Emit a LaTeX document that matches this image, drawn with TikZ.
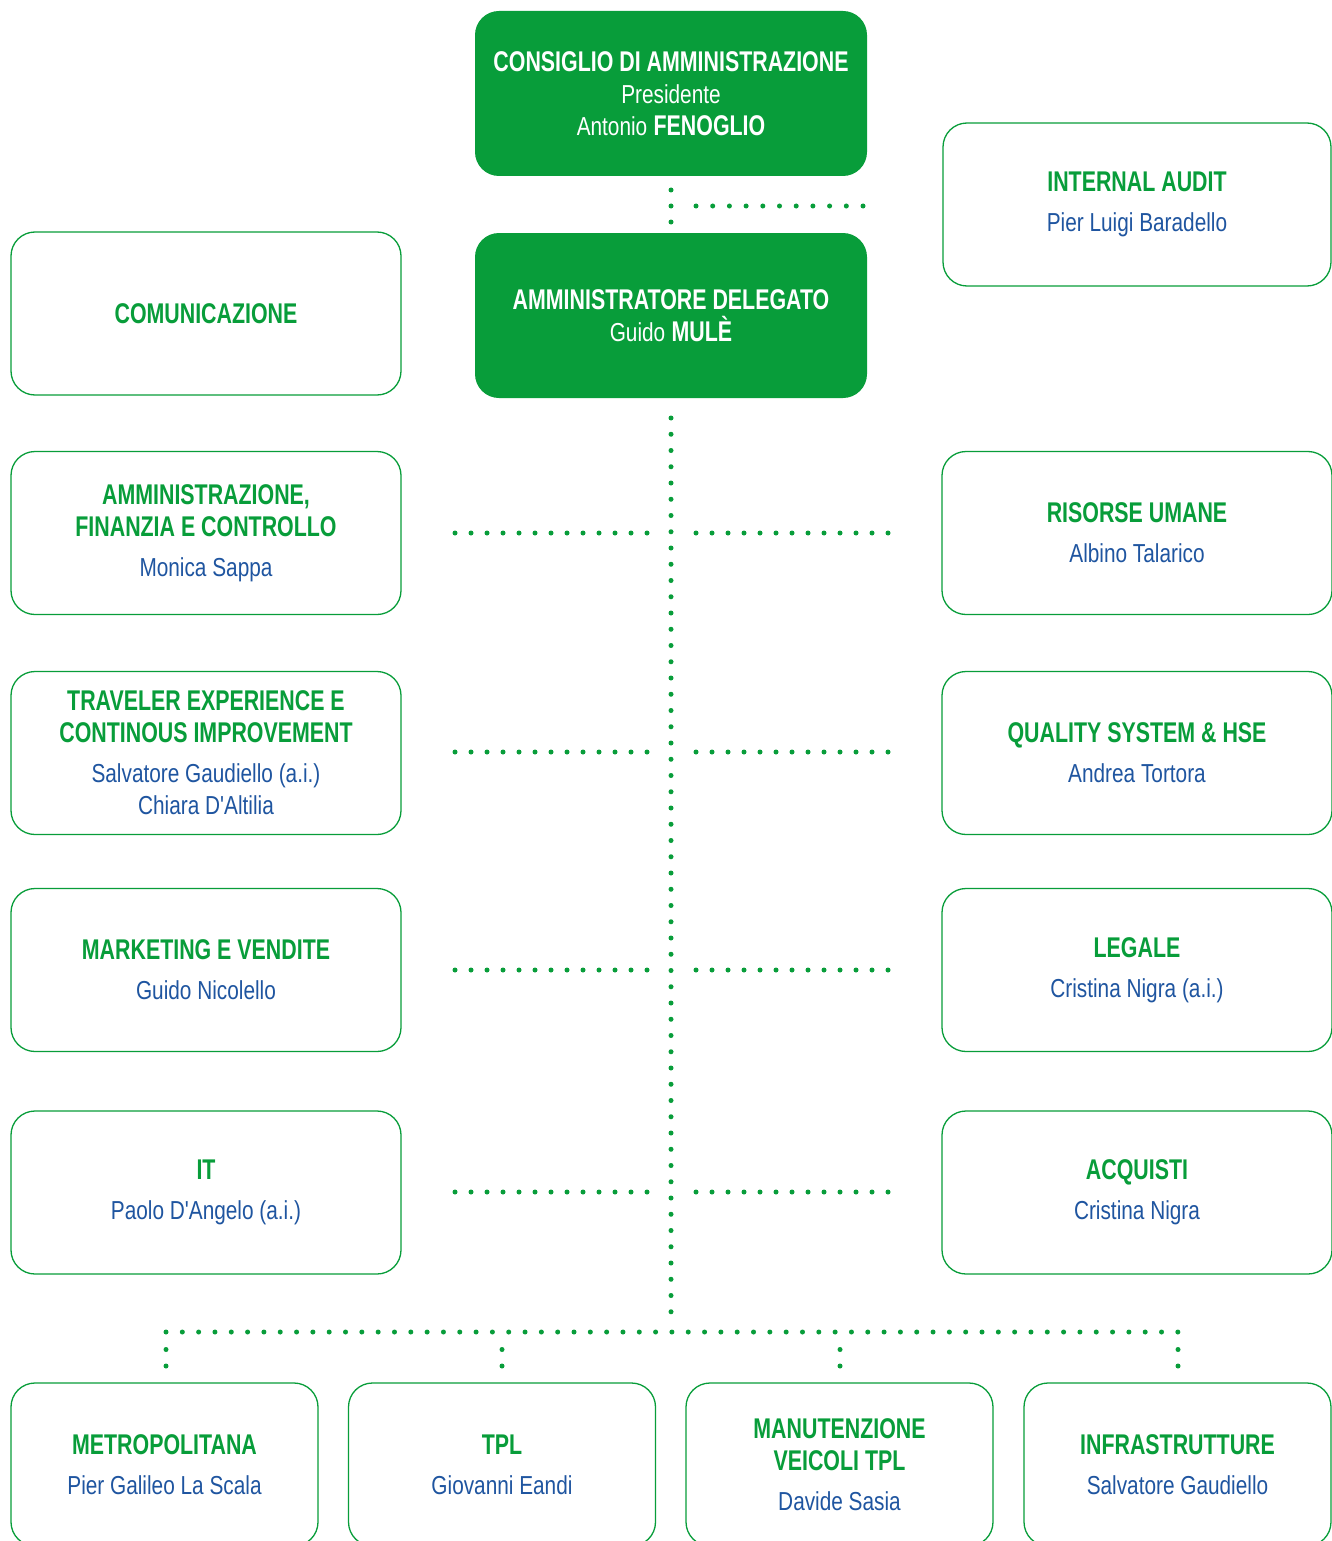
\documentclass[tikz,border=0pt]{standalone}
\usepackage{fontspec}
\setmainfont[FakeStretch=0.8,Ligatures=TeXOff,BoldFeatures={FakeStretch=0.75}]{Liberation Sans}
\definecolor{tgreen}{HTML}{089D3A}
\definecolor{tblue}{HTML}{1F55A0}
\newcommand\nm[1]{\textcolor{tblue}{\fontsize{26}{32}\selectfont\mdseries #1}}
\newcommand\lt[1]{{\fontsize{26}{32}\selectfont\mdseries #1}}
\begin{document}
\begin{tikzpicture}[x=1pt,y=-1pt,
  fillbox/.style={rounded corners=24pt, fill=tgreen, draw=none, minimum width=392pt, minimum height=165pt, text=white, align=center, inner sep=0pt, font=\fontsize{28.5}{32}\selectfont},
  linebox/.style={rounded corners=24pt, draw=tgreen, line width=1.3pt, minimum width=390pt, minimum height=163pt, text=tgreen, align=center, inner sep=0pt, font=\fontsize{28.5}{32}\selectfont\bfseries, fill=white},
  smallbox/.style={linebox, minimum width=307pt},
  dotline/.style={draw=tgreen, line width=5pt, line cap=round, dash pattern=on 0pt off #1},
  dotline/.default=16pt
]
\fill[white] (0,0) rectangle (1331,1541);
\useasboundingbox (0,0) rectangle (1331,1541);

% top boxes
\node[fillbox] (cda) at (671,93.5) {\textbf{CONSIGLIO DI AMMINISTRAZIONE}\\\lt{Presidente}\\\lt{Antonio} \textbf{FENOGLIO}};
\node[fillbox] (ad) at (671,315.5) {\textbf{AMMINISTRATORE DELEGATO}\\\lt{Guido} \textbf{MULÈ}};
\node[linebox, minimum width=388pt] (audit) at (1137,204.5) {INTERNAL AUDIT\\[8pt]\nm{Pier Luigi Baradello}};

% left column
\node[linebox] (com) at (206,313.5) {COMUNICAZIONE};
\node[linebox] (afc) at (206,533) {AMMINISTRAZIONE,\\FINANZIA E CONTROLLO\\[8pt]\nm{Monica Sappa}};
\node[linebox] (tec) at (206,753) {TRAVELER EXPERIENCE E\\CONTINOUS IMPROVEMENT\\[8pt]\nm{Salvatore Gaudiello (a.i.)}\\\nm{Chiara D'Altilia}};
\node[linebox] (mkt) at (206,970) {MARKETING E VENDITE\\[8pt]\nm{Guido Nicolello}};
\node[linebox] (it) at (206,1192.5) {IT\\[8pt]\nm{Paolo D'Angelo (a.i.)}};

% right column
\node[linebox] (hr) at (1137,533) {RISORSE UMANE\\[8pt]\nm{Albino Talarico}};
\node[linebox] (qs) at (1137,753) {QUALITY SYSTEM \& HSE\\[8pt]\nm{Andrea Tortora}};
\node[linebox] (leg) at (1137,970) {LEGALE\\[8pt]\nm{Cristina Nigra (a.i.)}};
\node[linebox] (acq) at (1137,1192.5) {ACQUISTI\\[8pt]\nm{Cristina Nigra}};

% bottom row
\node[smallbox] (metro) at (164.5,1464.5) {METROPOLITANA\\[8pt]\nm{Pier Galileo La Scala}};
\node[smallbox] (tpl) at (502,1464.5) {TPL\\[8pt]\nm{Giovanni Eandi}};
\node[smallbox] (man) at (839.5,1464.5) {MANUTENZIONE\\VEICOLI TPL\\[8pt]\nm{Davide Sasia}};
\node[smallbox] (infra) at (1177.5,1464.5) {INFRASTRUTTURE\\[8pt]\nm{Salvatore Gaudiello}};

% connector coordinates
\coordinate (t1) at (671,190);
\coordinate (t2) at (671,222.3);
\coordinate (a1) at (696,206);
\coordinate (a2) at (863.3,206);
\coordinate (v1) at (671,418);
\coordinate (v2) at (671,1312.1);
\coordinate (b1) at (166,1332);
\coordinate (b2) at (1178.3,1332);

% connectors
\draw[dotline] (t1) -- (t2);
\draw[dotline=16.7pt] (a1) -- (a2);
\draw[dotline=16.25pt] (v1) -- (v2);
\foreach \r/\yy in {afc/533, tec/752, mkt/970, it/1192}{
  \coordinate (l1\r) at (455,\yy);
  \coordinate (l2\r) at (647.3,\yy);
  \draw[dotline] (l1\r) -- (l2\r);
}
\foreach \r/\yy in {hr/533, qs/752, leg/970, acq/1192}{
  \coordinate (r1\r) at (696,\yy);
  \coordinate (r2\r) at (888.3,\yy);
  \draw[dotline] (r1\r) -- (r2\r);
}
\draw[dotline=16.32pt] (b1) -- (b2);
\foreach \n/\xx in {metro/166, tpl/502, man/840, infra/1178}{
  \coordinate (d1\n) at (\xx,1349.5);
  \coordinate (d2\n) at (\xx,1366.3);
  \draw[dotline=16.5pt] (d1\n) -- (d2\n);
}
\end{tikzpicture}
\end{document}
